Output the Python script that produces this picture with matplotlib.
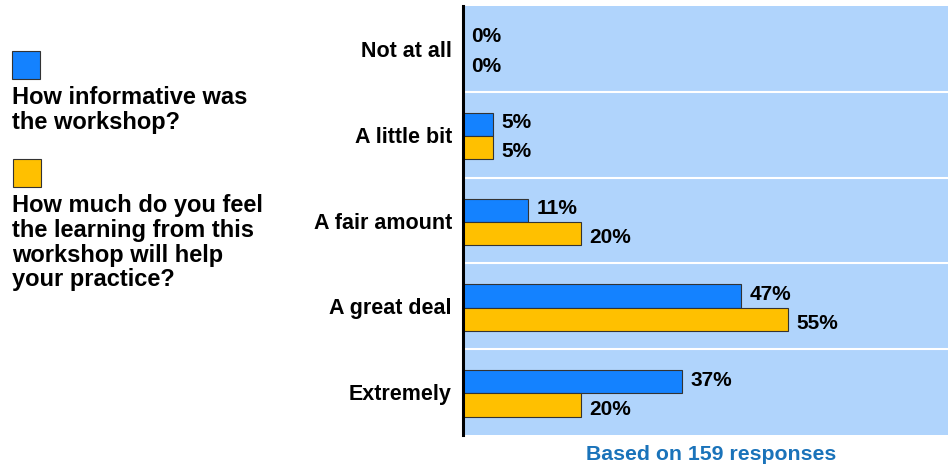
import matplotlib.pyplot as plt
import numpy as np

plt.rcParams['font.family'] = ['Liberation Sans', 'DejaVu Sans']
plt.rcParams['font.weight'] = 'bold'

categories = ['Not at all', 'A little bit', 'A fair amount', 'A great deal', 'Extremely']
informative = [0, 5, 11, 47, 37]
helpful = [0, 5, 20, 55, 20]
series_names = ['How informative was\nthe workshop?',
                'How much do you feel\nthe learning from this\nworkshop will help\nyour practice?']
blue = '#1482FF'
yellow = '#FFC000'

fig = plt.figure(figsize=(9.48, 4.68), dpi=100)
ax = fig.add_axes([463 / 948, 1 - 435 / 468, 485 / 948, 429 / 468])
ax.set_facecolor('#B0D4FC')

y = np.arange(len(categories))
h = 0.27
ax.barh(y - 0.12, informative, height=h, color=blue, edgecolor='#333333', linewidth=0.8)
ax.barh(y + 0.15, helpful, height=h, color=yellow, edgecolor='#333333', linewidth=0.8)

for i in range(len(categories)):
    ax.annotate(f'{informative[i]}%', (informative[i], y[i] - 0.14),
                xytext=(6, 0), textcoords='offset points', va='center',
                fontsize=15, fontweight='bold')
    ax.annotate(f'{helpful[i]}%', (helpful[i], y[i] + 0.2),
                xytext=(6, 0), textcoords='offset points', va='center',
                fontsize=15, fontweight='bold')

for s in np.arange(0.5, len(categories) - 0.5, 1):
    ax.axhline(s, color='white', lw=1.5)

ax.set_xlim(0, 82)
ax.set_ylim(len(categories) - 0.5, -0.5)
ax.set_yticks(y)
ax.set_yticklabels(categories, fontsize=15.5, fontweight='bold')
ax.set_xticks([])
ax.tick_params(axis='y', length=0, pad=8)
for sp in ['top', 'right', 'bottom']:
    ax.spines[sp].set_visible(False)
ax.spines['left'].set_linewidth(2.2)
ax.spines['left'].set_color('black')

# legend drawn by hand on the left
fig.patches.append(plt.Rectangle((12 / 948, 1 - 79 / 468), 28 / 948, 28 / 468,
                                 transform=fig.transFigure, facecolor=blue,
                                 edgecolor='#333333', lw=0.8))
fig.patches.append(plt.Rectangle((13 / 948, 1 - 187 / 468), 28 / 948, 28 / 468,
                                 transform=fig.transFigure, facecolor=yellow,
                                 edgecolor='#333333', lw=0.8))
fig.text(12 / 948, 1 - 86 / 468, series_names[0], va='top', ha='left',
         fontsize=17, fontweight='bold', linespacing=1.1)
fig.text(12 / 948, 1 - 194 / 468, series_names[1], va='top', ha='left',
         fontsize=17, fontweight='bold', linespacing=1.1)

fig.text(711 / 948, 1 - 455 / 468, 'Based on 159 responses', ha='center', va='center',
         fontsize=15.3, fontweight='bold', color='#1A73BA')

fig.savefig('out.png', dpi=100)
